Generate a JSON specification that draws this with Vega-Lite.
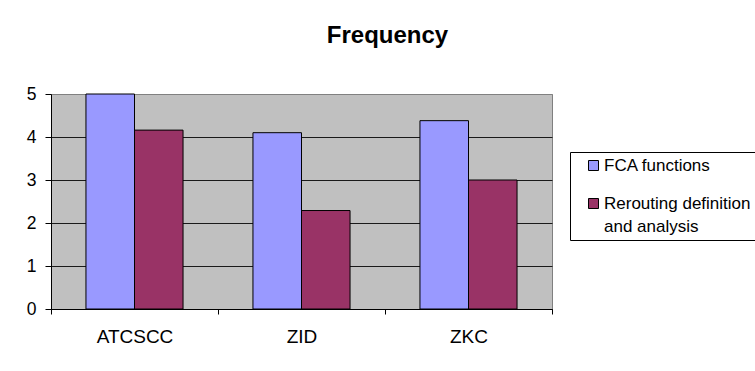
{
  "$schema": "https://vega.github.io/schema/vega-lite/v6.json",
  "autosize": {"type": "none"},
  "width": 501,
  "height": 215,
  "padding": {"left": 51, "top": 94, "right": 203, "bottom": 62},
  "background": "white",
  "title": {
    "text": "Frequency",
    "font": "Liberation Sans",
    "fontSize": 24,
    "fontWeight": "bold",
    "color": "black",
    "anchor": "middle",
    "frame": "group",
    "dx": 86,
    "offset": 37
  },
  "data": {
    "values": [
      {"site": "ATCSCC", "series": "FCA functions", "freq": 5.0},
      {"site": "ATCSCC", "series": "Rerouting definition and analysis", "freq": 4.16},
      {"site": "ZID", "series": "FCA functions", "freq": 4.1},
      {"site": "ZID", "series": "Rerouting definition and analysis", "freq": 2.29},
      {"site": "ZKC", "series": "FCA functions", "freq": 4.38},
      {"site": "ZKC", "series": "Rerouting definition and analysis", "freq": 3.0}
    ]
  },
  "mark": {"type": "bar", "stroke": "black", "strokeWidth": 1},
  "encoding": {
    "x": {
      "field": "site",
      "type": "nominal",
      "sort": ["ATCSCC", "ZID", "ZKC"],
      "scale": {"paddingInner": 0, "paddingOuter": 0},
      "axis": {
        "title": null,
        "labelAngle": 0,
        "labelFont": "Liberation Sans",
        "labelFontSize": 19,
        "labelColor": "black",
        "labelPadding": 13,
        "tickBand": "extent",
        "tickSize": 5,
        "tickColor": "black",
        "domainColor": "black",
        "grid": false
      }
    },
    "xOffset": {
      "field": "series",
      "type": "nominal",
      "sort": ["FCA functions", "Rerouting definition and analysis"],
      "scale": {"paddingInner": 0, "paddingOuter": 0.72}
    },
    "y": {
      "field": "freq",
      "type": "quantitative",
      "scale": {"domain": [0, 5], "nice": false},
      "axis": {
        "title": null,
        "values": [0, 1, 2, 3, 4, 5],
        "labelFont": "Liberation Sans",
        "labelFontSize": 17.5,
        "labelColor": "black",
        "labelPadding": 9,
        "tickSize": 6,
        "tickColor": "black",
        "domainColor": "black",
        "grid": true,
        "gridColor": {"condition": {"test": "datum.value == 5", "value": "#808080"}, "value": "#1a1a1a"},
        "gridOpacity": 1
      }
    },
    "color": {
      "field": "series",
      "type": "nominal",
      "sort": ["FCA functions", "Rerouting definition and analysis"],
      "scale": {"range": ["#9999FF", "#993366"]},
      "legend": {
        "title": null,
        "orient": "none",
        "legendX": 519,
        "legendY": 58,
        "strokeColor": "black",
        "fillColor": "white",
        "padding": 5,
        "symbolOffset": 10,
        "symbolType": "square",
        "symbolSize": 100,
        "symbolStrokeColor": "black",
        "symbolStrokeWidth": 1,
        "symbolOpacity": 1,
        "labelFont": "Liberation Sans",
        "labelFontSize": 17,
        "labelColor": "black",
        "labelOffset": 2,
        "labelLimit": 400,
        "rowPadding": 20,
        "labelExpr": "datum.label == 'Rerouting definition and analysis' ? ['Rerouting definition', 'and analysis'] : datum.label"
      }
    }
  },
  "config": {
    "view": {"fill": "#C0C0C0", "stroke": "#808080", "strokeWidth": 1},
    "style": {"guide-label": {"lineHeight": 23}}
  }
}
